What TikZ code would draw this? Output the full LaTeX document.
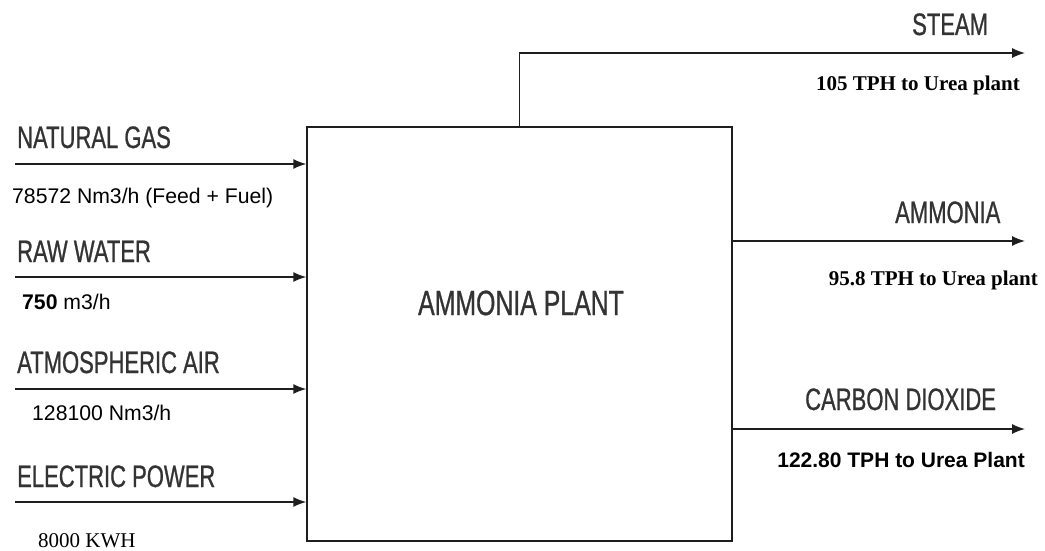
\documentclass[tikz,border=0pt]{standalone}
\usepackage{fontspec}
\setmainfont{Liberation Serif}
\setsansfont{Liberation Sans}
\newfontfamily\narrowsans[FakeStretch=0.71,FakeBold=0.8]{Liberation Sans}
\usetikzlibrary{arrows.meta,positioning,calc}
\definecolor{flowline}{HTML}{1E1E1E}
\definecolor{capgray}{HTML}{333333}

\begin{document}
\begin{tikzpicture}[x=1pt,y=-1pt, every node/.style={inner sep=0pt}]
    \tikzstyle{plantbox}=[draw=flowline,line width=1.4pt,minimum width=425pt,minimum height=414pt]
    \tikzstyle{stream}=[anchor=base west,text=capgray,font=\narrowsans\fontsize{31pt}{36pt}\selectfont]
    \tikzstyle{rate}=[anchor=base west,font=\sffamily\fontsize{21.2pt}{25pt}\selectfont]
    \tikzstyle{product}=[anchor=base east,font=\rmfamily\bfseries\fontsize{21pt}{25pt}\selectfont]
    \tikzstyle{flow}=[draw=flowline,line width=1.4pt,-{Latex[length=13pt,width=10pt]}]
    \useasboundingbox (0,0) rectangle (1045,551);
    % plant
    \node[plantbox] (plant) at (519.5,334) {};
    \node[anchor=base,text=capgray,font=\narrowsans\fontsize{35pt}{40pt}\selectfont] (plantname) at (521,315) {AMMONIA PLANT};
    % feeds
    \coordinate (gasin) at (15,164);
    \coordinate (waterin) at (15,277);
    \coordinate (airin) at (15,389);
    \coordinate (powerin) at (15,502);
    \node[stream] (gas) at (17,148) {NATURAL GAS};
    \node[rate] (gasrate) at (12,203) {78572 Nm3/h (Feed + Fuel)};
    \node[stream] (water) at (17,262) {RAW WATER};
    \node[rate] (waterrate) at (22,309) {\textbf{750} m3/h};
    \node[stream] (air) at (17,373) {ATMOSPHERIC AIR};
    \node[rate] (airrate) at (32,420) {128100 Nm3/h};
    \node[stream] (power) at (17,487) {ELECTRIC POWER};
    \node[rate,font=\rmfamily\fontsize{21pt}{25pt}\selectfont] (powerrate) at (38,547) {8000 KWH};
    \draw[flow] (gasin) -- (gasin -| plant.west);
    \draw[flow] (waterin) -- (waterin -| plant.west);
    \draw[flow] (airin) -- (airin -| plant.west);
    \draw[flow] (powerin) -- (powerin -| plant.west);
    % products
    \coordinate (steamout) at (1025,53);
    \coordinate (ammout) at (1025,241);
    \coordinate (coout) at (1025,429);
    \node[stream] (steam) at (912,35) {STEAM};
    \node[product] (steamrate) at (1020,91) {105 TPH to Urea plant};
    \node[stream] (amm) at (895,223) {AMMONIA};
    \node[product] (ammrate) at (1038,285) {95.8 TPH to Urea plant};
    \node[stream] (co) at (805,410) {CARBON DIOXIDE};
    \node[product,font=\sffamily\bfseries\fontsize{21pt}{25pt}\selectfont] (corate) at (1025,467) {122.80 TPH to Urea Plant};
    \draw[flow] (plant.north) |- (steamout);
    \draw[flow] (plant.east |- ammout) -- (ammout);
    \draw[flow] (plant.east |- coout) -- (coout);
\end{tikzpicture}
\end{document}
